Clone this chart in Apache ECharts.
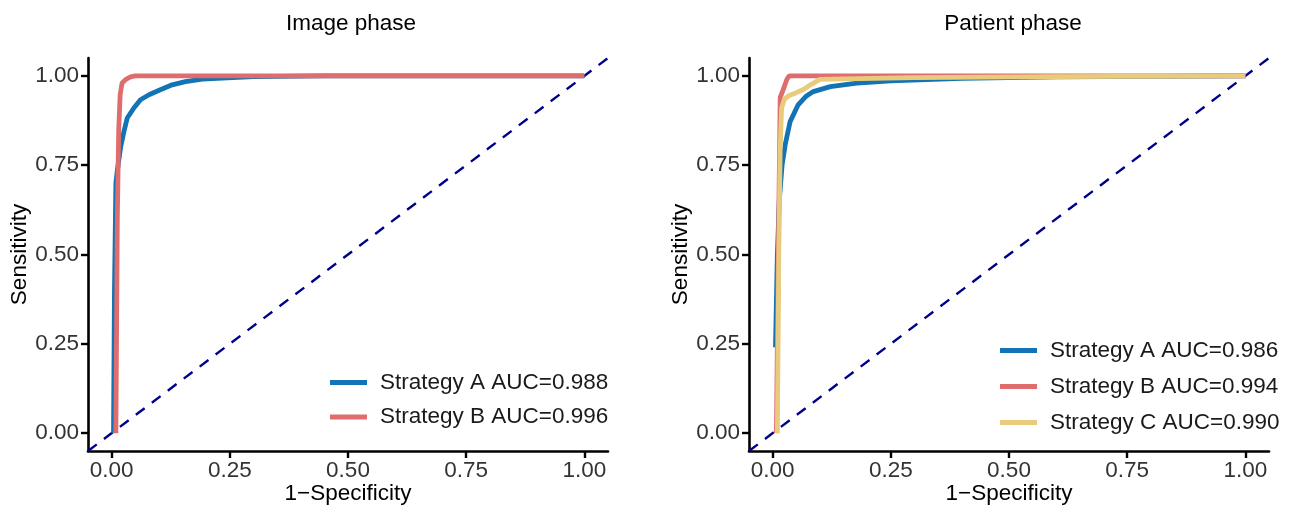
<!DOCTYPE html>
<html>
<head>
<meta charset="utf-8">
<script src="https://cdn.jsdelivr.net/npm/echarts@6/dist/echarts.min.js"></script>
<style>
html,body{margin:0;padding:0;background:#fff;}
#chart{width:1290px;height:508px;}
</style>
</head>
<body>
<div id="chart"></div>
<script>
// ---- data ----
const tickValues = [0, 0.25, 0.5, 0.75, 1];
const panelTitles = ['Image phase', 'Patient phase'];
const xName = '1\u2212Specificity';
const yName = 'Sensitivity';
const diagonal = [[-0.05, -0.05], [1.05, 1.05]];

// Image phase
const imgA_name = 'Strategy A AUC=0.988';
const imgA_fpr = [0.004, 0.006, 0.009, 0.012, 0.019, 0.026, 0.033, 0.047, 0.061, 0.079, 0.103, 0.128, 0.156, 0.192, 0.234, 0.30, 0.45, 1.0];
const imgA_tpr = [0.0, 0.40, 0.70, 0.735, 0.80, 0.844, 0.882, 0.91, 0.933, 0.947, 0.961, 0.975, 0.984, 0.991, 0.994, 0.998, 1.0, 1.0];
const imgB_name = 'Strategy B AUC=0.996';
const imgB_fpr = [0.009, 0.012, 0.015, 0.018, 0.022, 0.030, 0.040, 0.050, 1.0];
const imgB_tpr = [0.0, 0.60, 0.85, 0.947, 0.98, 0.99, 0.997, 1.0, 1.0];

// Patient phase
const patA_name = 'Strategy A AUC=0.986';
const patA_fpr = [0.006, 0.010, 0.014, 0.020, 0.027, 0.037, 0.054, 0.070, 0.086, 0.122, 0.178, 0.25, 0.40, 0.60, 1.0];
const patA_tpr = [0.24, 0.50, 0.65, 0.75, 0.81, 0.872, 0.919, 0.942, 0.956, 0.970, 0.980, 0.986, 0.993, 0.997, 1.0];
const patB_name = 'Strategy B AUC=0.994';
const patB_fpr = [0.008, 0.012, 0.016, 0.022, 0.030, 0.035, 1.0];
const patB_tpr = [0.0, 0.50, 0.94, 0.96, 0.99, 1.0, 1.0];
const patC_name = 'Strategy C AUC=0.990';
const patC_fpr = [0.010, 0.013, 0.016, 0.019, 0.025, 0.035, 0.050, 0.065, 0.080, 0.100, 0.30, 0.60, 1.0];
const patC_tpr = [0.0, 0.50, 0.80, 0.91, 0.935, 0.945, 0.953, 0.962, 0.975, 0.990, 0.995, 0.998, 1.0];

// ---- styles ----
const colA = '#1273b5', colB = '#e06d6d', colC = '#e8cb7c';
const FONT = 'Liberation Sans, Arial, sans-serif';
const FS = 22.5;
const zip = (xs, ys) => xs.map((x, i) => [x, ys[i]]);

function makeX(gi) {
  return {
    gridIndex: gi, type: 'value', min: -0.05, max: 1.05,
    name: xName, nameLocation: 'middle', nameGap: 31, nameMoveOverlap: false,
    nameTextStyle: {fontFamily: FONT, fontSize: FS, color: '#000'},
    axisLine: {onZero: false, lineStyle: {color: '#000', width: 2.6}},
    axisTick: {show: true, customValues: tickValues, length: 7, lineStyle: {color: '#000', width: 2.4}},
    axisLabel: {customValues: tickValues, margin: 8, fontFamily: FONT, fontSize: FS, color: '#333',
      formatter: v => v.toFixed(2)},
    splitLine: {show: false}
  };
}
function makeY(gi) {
  return {
    gridIndex: gi, type: 'value', min: -0.05, max: 1.05,
    name: yName, nameLocation: 'middle', nameGap: 57, nameRotate: 90, nameMoveOverlap: false,
    nameTextStyle: {fontFamily: FONT, fontSize: FS, color: '#000'},
    axisLine: {onZero: false, lineStyle: {color: '#000', width: 2.6}},
    axisTick: {show: true, customValues: tickValues, length: 7, lineStyle: {color: '#000', width: 2.4}},
    axisLabel: {customValues: tickValues, margin: 9, fontFamily: FONT, fontSize: FS, color: '#333',
      formatter: v => v.toFixed(2)},
    splitLine: {show: false}
  };
}
function curve(name, xs, ys, color, gi) {
  return {
    name: name, type: 'line', xAxisIndex: gi, yAxisIndex: gi,
    data: zip(xs, ys), showSymbol: false, symbol: 'none', smooth: false,
    lineStyle: {color: color, width: 4.8}, itemStyle: {color: color},
    emphasis: {disabled: true}, animation: false
  };
}
function diag(gi) {
  return {
    type: 'line', xAxisIndex: gi, yAxisIndex: gi, data: diagonal,
    showSymbol: false, symbol: 'none', silent: true, animation: false,
    lineStyle: {color: '#00008b', width: 2.4, type: [11, 9]}
  };
}
function legend(names, colors, left, top, gap) {
  return {
    left: left, top: top, orient: 'vertical', icon: 'rect', padding: 0,
    itemWidth: 37, itemHeight: 5, itemGap: gap, selectedMode: false,
    data: names.map((n, i) => ({name: n, itemStyle: {color: colors[i]}})),
    textStyle: {fontFamily: FONT, fontSize: FS, lineHeight: 22, color: '#1a1a1a', padding: [0, 0, 0, 8]}
  };
}

const chart = echarts.init(document.getElementById('chart'), null, {renderer: 'canvas'});
chart.setOption({
  backgroundColor: '#fff',
  animation: false,
  title: [
    {text: panelTitles[0], left: 351, top: 12, textAlign: 'center', padding: 0,
     textStyle: {fontFamily: FONT, fontSize: FS, fontWeight: 'normal', color: '#000'}},
    {text: panelTitles[1], left: 1013, top: 12, textAlign: 'center', padding: 0,
     textStyle: {fontFamily: FONT, fontSize: FS, fontWeight: 'normal', color: '#000'}}
  ],
  grid: [
    {left: 88, top: 58, width: 520, height: 393, outerBoundsMode: 'none', containLabel: false},
    {left: 749, top: 58, width: 520, height: 393, outerBoundsMode: 'none', containLabel: false}
  ],
  xAxis: [makeX(0), makeX(1)],
  yAxis: [makeY(0), makeY(1)],
  legend: [
    legend([imgA_name, imgB_name], [colA, colB], 330, 371, 11.5),
    legend([patA_name, patB_name, patC_name], [colA, colB, colC], 1000, 339, 13)
  ],
  series: [
    diag(0),
    curve(imgA_name, imgA_fpr, imgA_tpr, colA, 0),
    curve(imgB_name, imgB_fpr, imgB_tpr, colB, 0),
    diag(1),
    curve(patA_name, patA_fpr, patA_tpr, colA, 1),
    curve(patB_name, patB_fpr, patB_tpr, colB, 1),
    curve(patC_name, patC_fpr, patC_tpr, colC, 1)
  ]
});
</script>
</body>
</html>
